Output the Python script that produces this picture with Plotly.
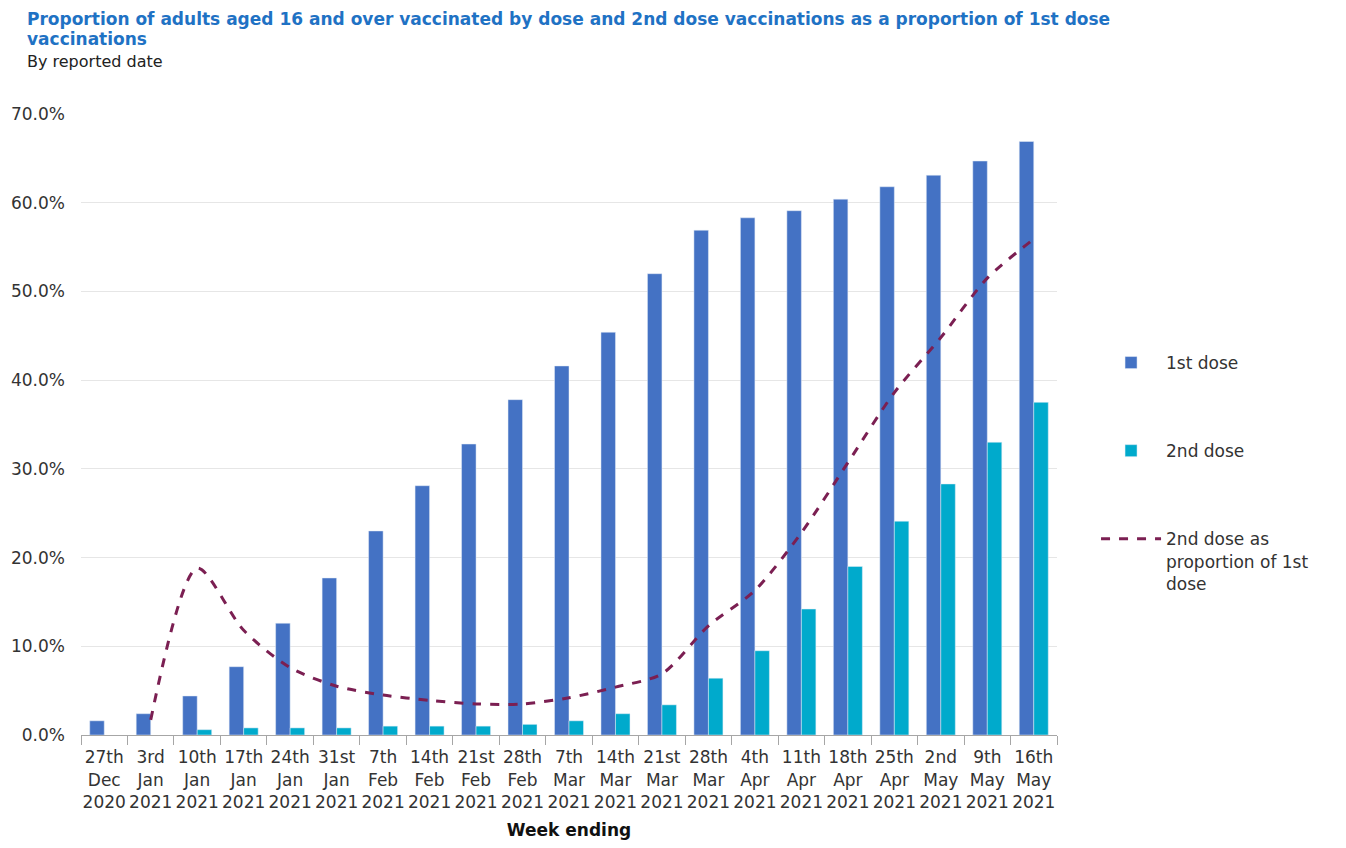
import plotly.graph_objects as go

weeks = ["27th<br>Dec<br>2020", "3rd<br>Jan<br>2021", "10th<br>Jan<br>2021", "17th<br>Jan<br>2021",
         "24th<br>Jan<br>2021", "31st<br>Jan<br>2021", "7th<br>Feb<br>2021", "14th<br>Feb<br>2021",
         "21st<br>Feb<br>2021", "28th<br>Feb<br>2021", "7th<br>Mar<br>2021", "14th<br>Mar<br>2021",
         "21st<br>Mar<br>2021", "28th<br>Mar<br>2021", "4th<br>Apr<br>2021", "11th<br>Apr<br>2021",
         "18th<br>Apr<br>2021", "25th<br>Apr<br>2021", "2nd<br>May<br>2021", "9th<br>May<br>2021",
         "16th<br>May<br>2021"]

first_dose = [0.016, 0.024, 0.044, 0.077, 0.126, 0.177, 0.230, 0.281, 0.328, 0.378, 0.416,
              0.454, 0.520, 0.569, 0.583, 0.591, 0.604, 0.618, 0.631, 0.647, 0.669]
second_dose = [None, None, 0.006, 0.008, 0.008, 0.008, 0.010, 0.010, 0.010, 0.012, 0.016,
               0.024, 0.034, 0.064, 0.095, 0.142, 0.190, 0.241, 0.283, 0.330, 0.375]
ratio = [None, 0.017, 0.188, 0.118, 0.076, 0.055, 0.045, 0.039, 0.035, 0.035, 0.042,
         0.054, 0.069, 0.123, 0.163, 0.228, 0.307, 0.386, 0.448, 0.515, 0.559]

title_line1 = "Proportion of adults aged 16 and over vaccinated by dose and 2nd dose vaccinations as a proportion of 1st dose"
title_line2 = "vaccinations"
subtitle = "By reported date"

FONT = "DejaVu Sans"
TXT = "#333333"

# figure sits inside the page body (8px margin), so sizes are reduced accordingly
W, H = 1330, 832
ML, MR, MT, MB = 73, 281, 106, 105
PW = W - ML - MR
PH = H - MT - MB

fig = go.Figure()
fig.add_trace(go.Bar(x=weeks, y=first_dose, name="1st dose", marker_color="#4472C4",
                     legendgroup="a"))
fig.add_trace(go.Bar(x=weeks, y=second_dose, name="2nd dose", marker_color="#00AACC",
                     legendgroup="b"))
fig.add_trace(go.Scatter(x=weeks, y=ratio, name="2nd dose as<br>proportion of 1st<br>dose",
                         mode="lines", line=dict(color="#7B1F52", width=3, dash="dash",
                                                 shape="spline", smoothing=0.8),
                         legendgroup="c"))


def py(pixel_from_top):
    return (MT + PH - pixel_from_top) / PH


def px(pixel_from_left):
    return (pixel_from_left - ML) / PW


fig.add_annotation(text="<b>" + title_line1 + "</b>", xref="paper", yref="paper",
                   x=px(18), y=py(0), xanchor="left", yanchor="top", showarrow=False,
                   borderpad=0, font=dict(family=FONT, size=17, color="#1F72C4"))
fig.add_annotation(text="<b>" + title_line2 + "</b>", xref="paper", yref="paper",
                   x=px(18), y=py(31), xanchor="left", yanchor="middle", showarrow=False,
                   borderpad=0, font=dict(family=FONT, size=17, color="#1F72C4"))
fig.add_annotation(text=subtitle, xref="paper", yref="paper",
                   x=px(18), y=py(53), xanchor="left", yanchor="middle", showarrow=False,
                   borderpad=0, font=dict(family=FONT, size=16, color="#222222"))

fig.update_layout(
    width=W, height=H,
    paper_bgcolor="white", plot_bgcolor="white",
    margin=dict(l=ML, r=MR, t=MT, b=MB, autoexpand=False),
    barmode="group", bargap=0.376, bargroupgap=0,
    font=dict(family=FONT, size=16, color=TXT),
    legend=dict(
        x=1.04, xanchor="left", y=0.628, yanchor="top",
        tracegroupgap=63, valign="top",
        font=dict(family=FONT, size=17, color=TXT),
        itemwidth=60,
    ),
    showlegend=True,
)
fig.update_xaxes(
    type="category", showline=True, linecolor="#A6A6A6", linewidth=1,
    ticks="outside", tickson="boundaries", ticklen=9, tickcolor="#A6A6A6",
    tickfont=dict(size=17, color=TXT), tickangle=0, ticklabelstandoff=7,
    title=dict(text="<b>Week ending</b>", font=dict(size=17, color="#111111"), standoff=15),
    showgrid=False, automargin=False,
)
fig.update_yaxes(
    range=[0, 0.7], tickvals=[0, 0.1, 0.2, 0.3, 0.4, 0.5, 0.6, 0.7], tickformat=".1%",
    showgrid=True, gridcolor="#E6E6E6", gridwidth=1, zeroline=False, showline=False,
    tickfont=dict(size=17, color=TXT), ticklabelstandoff=15, automargin=False,
)

fig.write_html("out.html")
